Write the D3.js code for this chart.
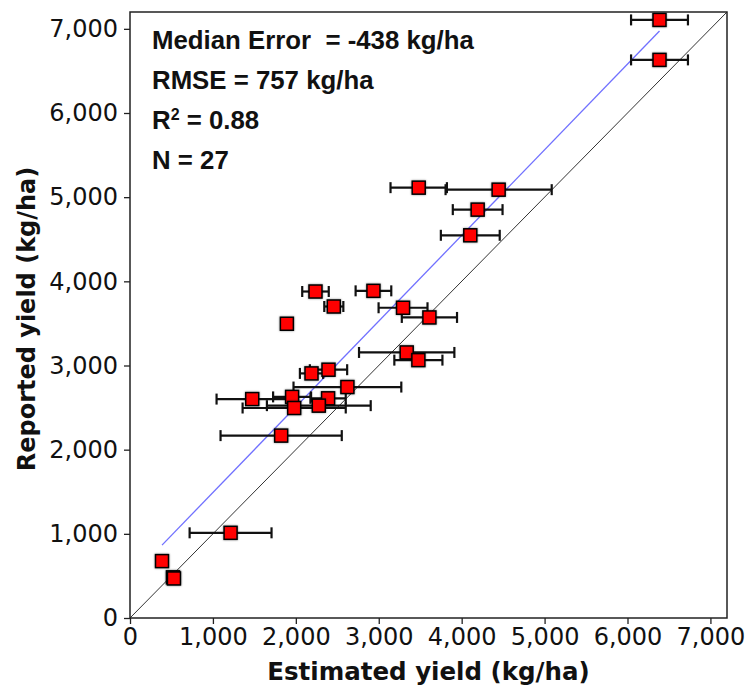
<!DOCTYPE html>
<html>
<head>
<meta charset="utf-8">
<script src="https://cdn.jsdelivr.net/npm/d3@7"></script>
<style>
  html, body { margin: 0; padding: 0; background: #fff; }
  svg { display: block; }
</style>
</head>
<body>
<svg id="chart" width="747" height="687"></svg>
<script>
// Yield validation: satellite-estimated vs. farmer-reported yield (kg/ha)
const estimated = [6386, 6386, 3482, 4446, 4193, 4104, 2237, 2936, 2458, 3293, 3611, 1892, 3337, 3478,
                   2394, 2189, 2622, 1474, 1955, 2389, 2277, 1980, 1823, 1213, 386, 518, 530];
const reported  = [7106, 6631, 5113, 5089, 4852, 4547, 3879, 3887, 3701, 3686, 3571, 3496, 3155, 3064,
                   2950, 2906, 2744, 2601, 2627, 2610, 2523, 2495, 2167, 1012, 676, 483, 470];
const estimatedErr = [343, 343, 340, 640, 300, 355, 160, 215, 115, 295, 333, 0, 575, 290,
                      225, 140, 650, 430, 229, 213, 626, 622, 731, 494, 0, 0, 0];

const tickValues = [0, 1000, 2000, 3000, 4000, 5000, 6000, 7000];
const axisMax = 7200;
const fitLine = [473, 1.018];   // intercept, slope of the regression line
const statLines = ["Median Error  = -438 kg/ha", "RMSE = 757 kg/ha", "R2 = 0.88", "N = 27"];

const svg = d3.select("#chart");
const margin = { left: 130, top: 12, right: 20, bottom: 69 };
const W = 747, H = 687;

const x = d3.scaleLinear().domain([0, axisMax]).range([margin.left, W - margin.right]);
const y = d3.scaleLinear().domain([0, axisMax]).range([H - margin.bottom, margin.top]);

// soft shadow under the square markers
const defs = svg.append("defs");
const f = defs.append("filter").attr("id", "halo").attr("x", "-50%").attr("y", "-50%")
  .attr("width", "200%").attr("height", "200%");
f.append("feGaussianBlur").attr("in", "SourceAlpha").attr("stdDeviation", 1.2).attr("result", "b");
f.append("feComponentTransfer").attr("in", "b").attr("result", "c")
  .append("feFuncA").attr("type", "linear").attr("slope", 0.45);
const fm = f.append("feMerge");
fm.append("feMergeNode").attr("in", "c");
fm.append("feMergeNode").attr("in", "SourceGraphic");

defs.append("clipPath").attr("id", "plotClip")
  .append("rect").attr("x", x(0)).attr("y", y(axisMax))
  .attr("width", x(axisMax) - x(0)).attr("height", y(0) - y(axisMax));

// 1:1 line
svg.append("line")
  .attr("clip-path", "url(#plotClip)")
  .attr("x1", x(0)).attr("y1", y(0)).attr("x2", x(axisMax)).attr("y2", y(axisMax))
  .attr("stroke", "#333").attr("stroke-width", 1);

// regression line over the range of the estimates
const xMin = d3.min(estimated), xMax = d3.max(estimated);
svg.append("line")
  .attr("x1", x(xMin)).attr("y1", y(fitLine[0] + fitLine[1] * xMin))
  .attr("x2", x(xMax)).attr("y2", y(fitLine[0] + fitLine[1] * xMax))
  .attr("stroke", "#7070ff").attr("stroke-width", 1.3);

// horizontal error bars
const pts = estimated.map((e, i) => ({ e, r: reported[i], err: estimatedErr[i] }));
const eb = svg.append("g").attr("stroke", "#111").attr("stroke-width", 2.2).attr("fill", "none");
pts.filter(d => d.err > 0).forEach(d => {
  const yy = y(d.r), x0 = x(d.e - d.err), x1 = x(d.e + d.err);
  eb.append("line").attr("x1", x0).attr("x2", x1).attr("y1", yy).attr("y2", yy);
  eb.append("line").attr("x1", x0).attr("x2", x0).attr("y1", yy - 5.5).attr("y2", yy + 5.5);
  eb.append("line").attr("x1", x1).attr("x2", x1).attr("y1", yy - 5.5).attr("y2", yy + 5.5);
});

// markers
const s = 13;
svg.append("g").selectAll("rect").data(pts).join("rect")
  .attr("x", d => x(d.e) - s / 2).attr("y", d => y(d.r) - s / 2)
  .attr("width", s).attr("height", s)
  .attr("fill", "#ff0000").attr("stroke", "#000").attr("stroke-width", 1.5)
  .attr("filter", "url(#halo)");

// axes
const fmt = d3.format(",");
const xAxis = svg.append("g").attr("transform", `translate(0,${y(0)})`)
  .call(d3.axisBottom(x).tickValues(tickValues).tickFormat(fmt).tickSize(6).tickPadding(4));
const yAxis = svg.append("g").attr("transform", `translate(${x(0)},0)`)
  .call(d3.axisLeft(y).tickValues(tickValues).tickFormat(fmt).tickSize(6).tickPadding(6));
[xAxis, yAxis].forEach(a => {
  a.select(".domain").remove();
  a.selectAll(".tick line").attr("stroke", "#222").attr("stroke-width", 1.3);
  a.selectAll(".tick text").attr("fill", "#111")
    .style("font-family", "'DejaVu Sans', sans-serif").style("font-size", "24px");
});

// frame
svg.append("rect")
  .attr("x", x(0)).attr("y", y(axisMax))
  .attr("width", x(axisMax) - x(0)).attr("height", y(0) - y(axisMax))
  .attr("fill", "none").attr("stroke", "#222").attr("stroke-width", 1.5);

// axis titles
svg.append("text")
  .attr("x", (x(0) + x(axisMax)) / 2).attr("y", 680)
  .attr("text-anchor", "middle")
  .style("font-family", "'DejaVu Sans', sans-serif").style("font-weight", "bold").style("font-size", "24.5px")
  .attr("fill", "#111")
  .text("Estimated yield (kg/ha)");
svg.append("text")
  .attr("transform", `translate(35,${(y(0) + y(axisMax)) / 2 + 4}) rotate(-90)`)
  .attr("text-anchor", "middle")
  .style("font-family", "'DejaVu Sans', sans-serif").style("font-weight", "bold").style("font-size", "24px")
  .attr("fill", "#111")
  .text("Reported yield (kg/ha)");

// summary statistics
const stats = svg.append("g")
  .style("font-family", "'Liberation Sans', Arial, sans-serif").style("font-weight", "bold")
  .style("font-size", "25.8px").attr("fill", "#111");
statLines.forEach((t, i) => {
  const txt = stats.append("text").attr("x", 152).attr("y", 49 + i * 40).attr("xml:space", "preserve");
  if (t.startsWith("R2")) {
    txt.append("tspan").text("R");
    txt.append("tspan").attr("dy", -9).style("font-size", "16px").text("2");
    txt.append("tspan").attr("dy", 9).text(t.slice(2));
  } else {
    txt.text(t);
  }
});
</script>
</body>
</html>
